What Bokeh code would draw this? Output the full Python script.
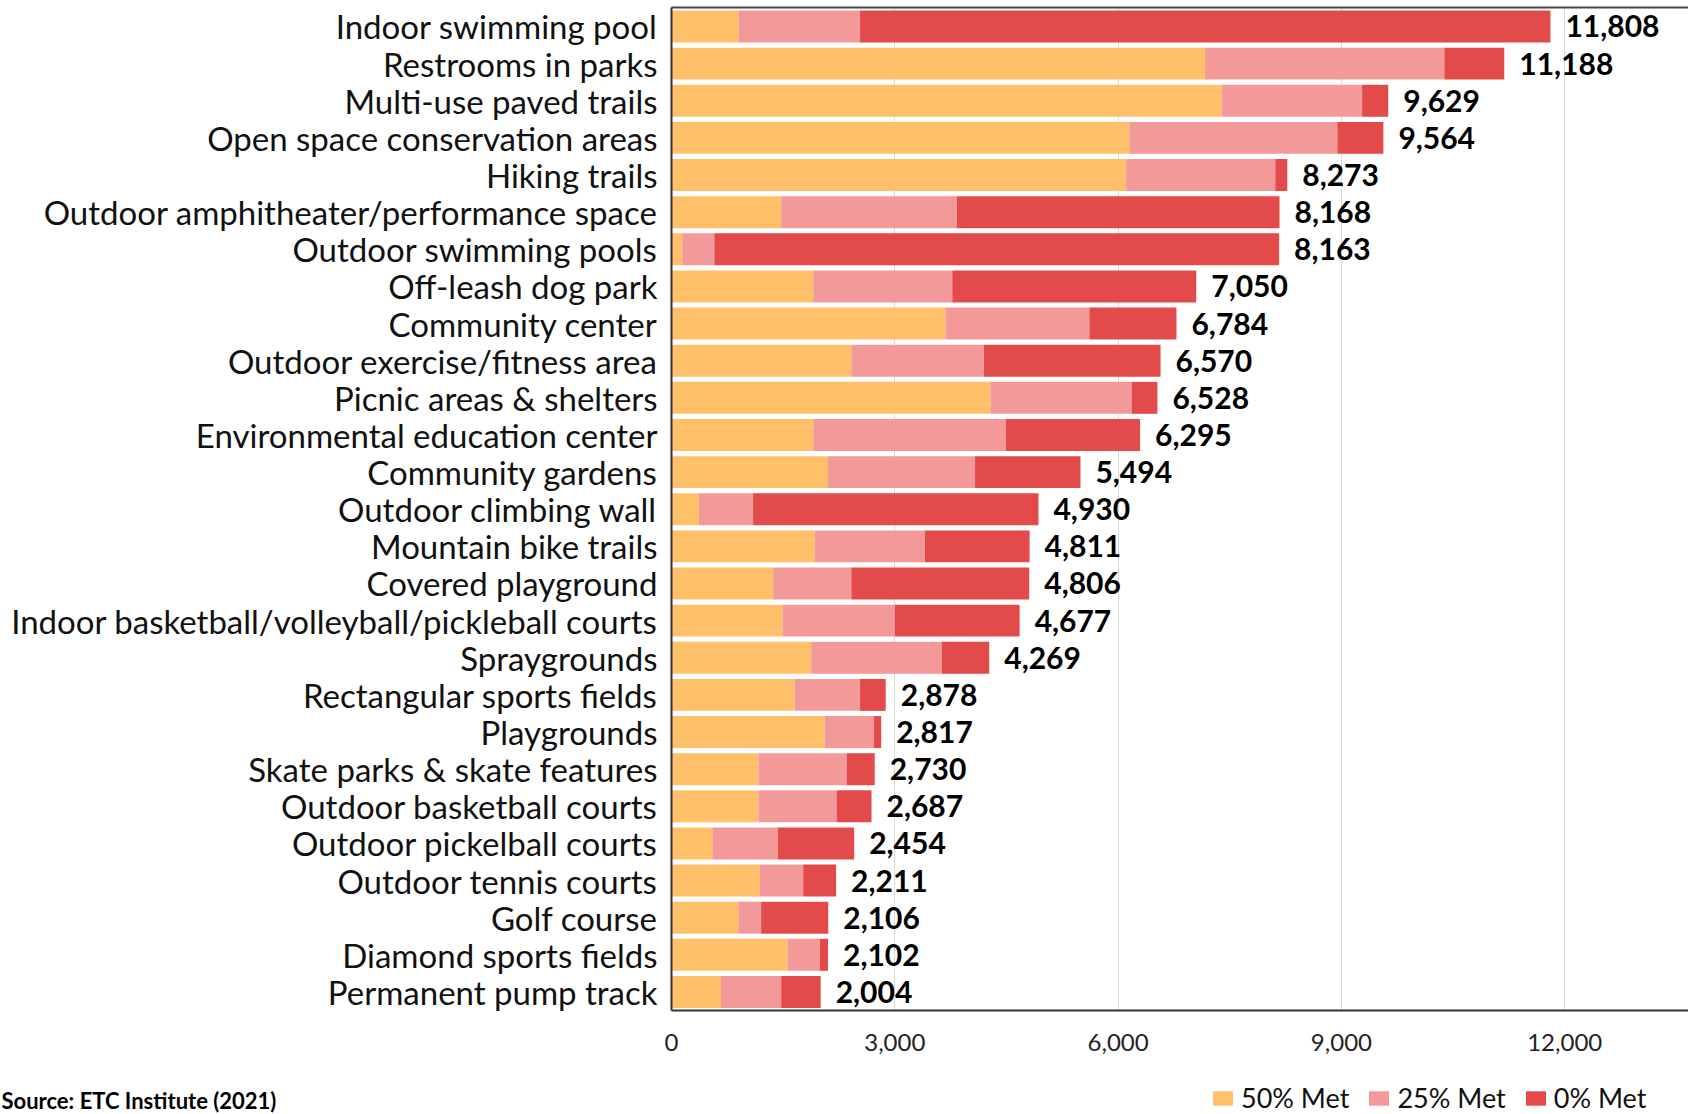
from bokeh.plotting import figure
from bokeh.models import (ColumnDataSource, Range1d, FixedTicker, LinearAxis,
                          NumeralTickFormatter, Label, Legend, BoxAnnotation)
from bokeh.embed import file_html
from bokeh.resources import INLINE
from bokeh.core.properties import value

categories = [
    "Indoor swimming pool", "Restrooms in parks", "Multi-use paved trails",
    "Open space conservation areas", "Hiking trails",
    "Outdoor amphitheater/performance space", "Outdoor swimming pools",
    "Off-leash dog park", "Community center", "Outdoor exercise/fitness area",
    "Picnic areas & shelters", "Environmental education center",
    "Community gardens", "Outdoor climbing wall", "Mountain bike trails",
    "Covered playground", "Indoor basketball/volleyball/pickleball courts",
    "Spraygrounds", "Rectangular sports fields", "Playgrounds",
    "Skate parks & skate features", "Outdoor basketball courts",
    "Outdoor pickelball courts", "Outdoor tennis courts", "Golf course",
    "Diamond sports fields", "Permanent pump track",
]
met_50 = [900, 7168, 7392, 6153, 6108, 1473, 144, 1904, 3683, 2416, 4284, 1904,
          2102, 368, 1922, 1365, 1491, 1877, 1653, 2057, 1168, 1168, 548, 1186,
          898, 1563, 665]
met_25 = [1633, 3215, 1886, 2793, 2003, 2362, 431, 1868, 1931, 1779, 1896, 2587,
          1976, 728, 1482, 1051, 1509, 1752, 880, 664, 1185, 1051, 880, 583,
          306, 431, 808]
totals = [11808, 11188, 9629, 9564, 8273, 8168, 8163, 7050, 6784, 6570, 6528,
          6295, 5494, 4930, 4811, 4806, 4677, 4269, 2878, 2817, 2730, 2687,
          2454, 2211, 2106, 2102, 2004]
met_0 = [t - a - b for t, a, b in zip(totals, met_50, met_25)]
series_names = ["50% Met", "25% Met", "0% Met"]
x_ticks = [0, 3000, 6000, 9000, 12000]
source_note = "Source:  ETC Institute (2021)"

colors = ["#FFC069", "#F49999", "#E34A4A"]
FONT = "Lato"

N = len(categories)
ypos = list(range(N - 1, -1, -1))          # first category on top
Y_LO, Y_HI = -0.5, N - 0.5                  # extent of the category band
X_MAX = 13663

src = ColumnDataSource(dict(
    y=ypos, cat=categories, m50=met_50, m25=met_25, m0=met_0, total=totals,
    label=[f"{t:,}" for t in totals],
))

p = figure(
    width=1688, height=1114,
    x_range=Range1d(-9015, X_MAX),
    y_range=Range1d(Y_LO - 2.80, Y_HI + 0.20),
    output_backend="svg", toolbar_location=None,
    min_border=0,
)
p.outline_line_color = None
p.background_fill_color = "white"
p.border_fill_color = "white"

# grid, then white covers outside the category band
p.xgrid.ticker = FixedTicker(ticks=x_ticks)
p.xgrid.grid_line_color = "#D9D9D9"
p.xgrid.grid_line_width = 1
p.ygrid.grid_line_color = None
p.add_layout(BoxAnnotation(top=Y_LO, fill_color="white", fill_alpha=1,
                           line_alpha=0, level="underlay"))
p.add_layout(BoxAnnotation(bottom=Y_HI, fill_color="white", fill_alpha=1,
                           line_alpha=0, level="underlay"))

renderers = p.hbar_stack(["m50", "m25", "m0"], y="y", height=0.86,
                         color=colors, line_color=None, source=src)

p.text(x="total", y="y", text="label", source=src, x_offset=15,
       text_baseline="middle", text_align="left",
       text_font=value(FONT), text_font_style="bold",
       text_font_size="30px", text_color="#000000")

# x axis at the bottom of the band
xa = p.xaxis[0]
xa.fixed_location = Y_LO
xa.bounds = (0, X_MAX)
xa.ticker = FixedTicker(ticks=x_ticks)
xa.formatter = NumeralTickFormatter(format="0,0")
xa.major_tick_line_color = None
xa.minor_tick_line_color = None
xa.major_tick_out = 0
xa.major_label_standoff = 23
xa.major_label_text_font = FONT
xa.major_label_text_font_size = "24px"
xa.major_label_text_color = "#222222"
xa.axis_line_color = "#333333"
xa.axis_line_width = 2

# category axis at x = 0
ya = p.yaxis[0]
ya.fixed_location = 0
ya.bounds = (Y_LO, Y_HI)
ya.ticker = FixedTicker(ticks=ypos)
ya.major_label_overrides = {y: c for y, c in zip(ypos, categories)}
ya.major_tick_line_color = None
ya.minor_tick_line_color = None
ya.major_tick_out = 0
ya.major_label_standoff = 14
ya.major_label_text_font = FONT
ya.major_label_text_font_size = "33px"
ya.major_label_text_color = "#111111"
ya.axis_line_color = "#333333"
ya.axis_line_width = 2

# top border line
top_axis = LinearAxis(fixed_location=Y_HI, bounds=(0, X_MAX),
                      ticker=FixedTicker(ticks=[]),
                      major_label_text_font_size="0px",
                      major_tick_line_color=None, minor_tick_line_color=None,
                      axis_line_color="#444444", axis_line_width=2)
p.add_layout(top_axis, "above")

legend = Legend(
    items=[(name, [r]) for name, r in zip(series_names, renderers)],
    location=(1210, 0), orientation="horizontal",
    glyph_width=25, glyph_height=18, label_standoff=6, spacing=17,
    label_height=18, padding=0, margin=0, border_line_color=None,
    background_fill_alpha=0,
    label_text_font=FONT, label_text_font_size="27px",
    label_text_line_height=1.0, label_text_color="#111111",
)
p.add_layout(legend, "center")

note = Label(x=1, y=1, x_units="screen", y_units="screen",
             text=source_note, text_baseline="bottom",
             text_font=FONT, text_font_style="bold", text_font_size="22px",
             text_color="#000000")
p.add_layout(note)

open("out.html", "w").write(file_html(p, INLINE))
